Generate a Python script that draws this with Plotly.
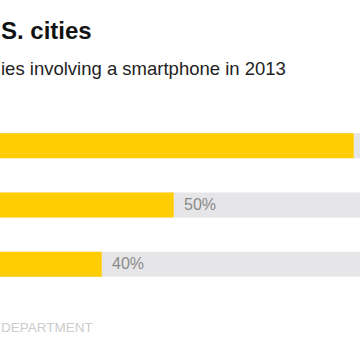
import plotly.graph_objects as go

categories = ["City A", "City B", "City C"]
values = [75, 50, 40]
labels = ["75%", "50%", "40%"]
track_max = [100, 100, 100]

W, H = 360, 360
T, B = 115.75, 65.75
PH = H - T - B
X_RANGE = [186.3 / 7.2, (360 + 186.3) / 7.2]

def py(y_px):
    return (H - B - y_px) / PH

FONT = "Liberation Sans, Arial, Helvetica, sans-serif"

fig = go.Figure()
fig.add_trace(go.Bar(
    y=categories, x=track_max, orientation="h",
    marker=dict(color="#e6e6e8", line=dict(width=0)),
    width=0.42, hoverinfo="skip", showlegend=False,
))
fig.add_trace(go.Bar(
    y=categories, x=values, orientation="h",
    marker=dict(color="#ffcd00", line=dict(width=0)),
    width=0.42, showlegend=False,
))

annotations = []
for c, v, lab in zip(categories, values, labels):
    # the label of the longest bar falls beyond the visible crop
    if v > X_RANGE[1] - 5:
        continue
    annotations.append(dict(
        x=v, y=c, xref="x", yref="y", text=lab, showarrow=False,
        xanchor="left", yanchor="middle", xshift=8, yshift=1,
        font=dict(family=FONT, size=16, color="#8a8a8a"),
    ))

annotations += [
    dict(x=-1/W, y=py(30.5), xref="paper", yref="paper", text="<b>S. cities</b>",
         showarrow=False, xanchor="left", yanchor="middle",
         font=dict(family=FONT, size=24, color="#111111")),
    dict(x=-1/W, y=py(68), xref="paper", yref="paper",
         text="ies involving a smartphone in 2013",
         showarrow=False, xanchor="left", yanchor="middle",
         font=dict(family=FONT, size=18.5, color="#222222")),
    dict(x=-1.5/W, y=py(328.3), xref="paper", yref="paper", text="DEPARTMENT",
         showarrow=False, xanchor="left", yanchor="middle",
         font=dict(family=FONT, size=13.5, color="#cccccc")),
]

fig.update_layout(
    width=W, height=H,
    margin=dict(l=0, r=0, t=T, b=B, pad=0),
    barmode="overlay",
    paper_bgcolor="white", plot_bgcolor="white",
    xaxis=dict(range=X_RANGE, showgrid=False,
               zeroline=False, showticklabels=False, fixedrange=True),
    yaxis=dict(autorange="reversed", showgrid=False, zeroline=False,
               showticklabels=False, fixedrange=True),
    annotations=annotations,
)

fig.write_html("out.html", config={"displayModeBar": False})

with open("out.html", "r", encoding="utf-8") as f:
    html = f.read()
html = html.replace("<head>", "<head><style>html,body{margin:0;padding:0;overflow:hidden;}</style>", 1)
with open("out.html", "w", encoding="utf-8") as f:
    f.write(html)
